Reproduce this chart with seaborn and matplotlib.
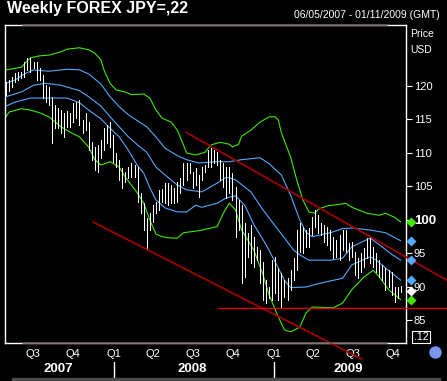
import numpy as np
import pandas as pd
import matplotlib
matplotlib.use('Agg')
import matplotlib.pyplot as plt
import matplotlib.transforms as mtrans
import seaborn as sns

# ---- data (USD/JPY weekly) ----
START = pd.Timestamp('2007-04-30')   # week 0

bar_high = [120.6, 120.9, 121.3, 121.9, 122.1, 122.1, 123.6, 124.2, 124.2, 123.6,
            123.6, 122.7, 121.6, 120.1, 119.9, 118.4, 117.2, 116.7, 116.4, 116.0,
            116.3, 116.0, 117.5, 117.6, 117.9, 114.9, 116.0, 114.6, 111.6, 110.9,
            111.2, 111.9, 113.7, 114.2, 114.6, 112.7, 110.0, 109.0, 107.8, 107.2,
            107.9, 108.5, 108.2, 107.9, 104.0, 102.5, 100.3, 101.0, 102.2, 102.7,
            104.5, 104.6, 105.5, 105.5, 105.2, 104.8, 105.7, 106.3, 108.5, 108.5,
            108.5, 107.2, 107.8, 106.7, 107.9, 108.2, 110.4, 110.7, 110.4, 110.1,
            109.0, 108.5, 107.9, 107.9, 107.0, 104.9, 103.0, 102.2, 99.6, 98.1,
            99.3, 97.5, 96.0, 95.5, 93.7, 91.0, 90.0, 94.0, 94.5, 92.8,
            92.1, 91.0, 91.3, 92.5, 94.3, 98.5, 99.6, 99.0, 98.5, 98.8,
            100.4, 101.5, 100.7, 99.6, 99.3, 99.0, 98.5, 97.5, 97.0, 97.8,
            98.5, 98.5, 96.6, 96.7, 95.2, 94.3, 95.1, 95.8, 97.3, 97.5,
            96.0, 95.1, 94.0, 93.3, 92.8, 92.5, 92.2, 90.0, 90.0, 90.1]
bar_low = [118.7, 119.3, 119.9, 120.6, 120.9, 121.2, 121.3, 122.4, 122.1, 122.7,
           120.9, 120.9, 118.2, 117.6, 117.2, 111.5, 113.7, 113.7, 113.0, 112.4,
           113.9, 113.9, 114.6, 115.2, 114.2, 113.0, 113.4, 110.4, 109.0, 107.5,
           107.2, 109.3, 110.4, 111.5, 110.9, 108.7, 107.9, 106.0, 104.8, 105.7,
           106.3, 106.4, 106.4, 102.7, 101.0, 98.5, 95.5, 98.5, 99.7, 101.0,
           101.5, 102.7, 102.5, 102.2, 102.5, 102.5, 102.7, 104.0, 105.2, 106.0,
           107.0, 104.8, 105.2, 103.4, 106.0, 107.2, 107.9, 107.9, 108.5, 108.2,
           106.0, 104.9, 103.3, 104.0, 103.0, 97.5, 98.5, 90.6, 91.5, 94.5,
           93.6, 93.0, 94.0, 90.6, 88.1, 87.6, 88.4, 88.1, 89.1, 88.1,
           86.9, 88.5, 88.1, 89.6, 91.0, 92.5, 95.2, 95.1, 96.0, 96.0,
           97.8, 99.0, 98.1, 97.8, 96.7, 96.3, 95.5, 94.3, 94.5, 94.0,
           95.5, 95.2, 94.0, 94.5, 91.8, 91.3, 92.2, 93.0, 94.3, 93.6,
           93.0, 92.2, 91.5, 91.0, 89.6, 90.0, 88.8, 87.8, 88.4, 89.3]
last_close = 89.4

# band lines: week index, price
green_up_wk = [0, 5, 8, 11, 14, 18, 20, 24, 27, 29, 31, 32, 34, 36, 39, 41, 45, 47, 49, 51,
               54, 56, 58, 59, 62, 65, 67, 70, 73, 74, 76, 77, 80, 83, 86, 88, 89, 90, 93, 95,
               97, 99, 101, 102, 105, 110, 111, 113, 118, 122, 124, 127, 129]
green_up = [122.4, 122.8, 124.2, 124.5, 124.6, 125.1, 125.5, 125.7, 125.4, 124.9, 123.9, 122.4,
            120.4, 119.4, 119.1, 118.7, 118.8, 118.2, 116.4, 115.2, 114.6, 113.4, 111.2, 110.0,
            109.7, 110.1, 111.2, 111.6, 111.3, 110.9, 111.3, 112.5, 113.4, 114.6, 115.4, 115.4,
            114.9, 113.0, 109.4, 106.0, 103.0, 101.2, 101.0, 101.6, 102.1, 102.4, 102.5, 101.9,
            101.0, 100.7, 101.0, 100.4, 99.7]

blue_up_wk = [0, 3, 6, 9, 14, 20, 24, 27, 31, 34, 37, 40, 43, 46, 49, 52, 56, 59, 63, 69,
              73, 77, 83, 86, 90, 93, 96, 98, 100, 103, 106, 110, 113, 119, 124, 129]
blue_up = [120.4, 120.9, 121.8, 122.4, 122.2, 122.5, 122.4, 121.8, 120.3, 118.4, 116.9, 115.7,
           114.8, 113.9, 112.4, 110.7, 109.6, 109.0, 108.5, 108.7, 108.7, 109.0, 109.3, 108.4,
           106.7, 103.7, 100.0, 98.2, 97.5, 97.8, 98.1, 98.7, 98.8, 98.5, 98.1, 96.9]

blue_mid_wk = [0, 5, 9, 13, 18, 21, 24, 27, 31, 34, 37, 40, 43, 46, 49, 52, 56, 59, 64, 69,
               72, 75, 80, 84, 89, 94, 96, 99, 106, 110, 113, 119, 122, 126, 129]
blue_mid = [118.4, 119.1, 120.1, 120.4, 120.1, 119.7, 119.3, 118.4, 117.0, 115.4, 113.9, 112.4,
            111.2, 110.1, 107.9, 106.7, 105.2, 104.5, 104.2, 105.5, 106.4, 106.0, 104.2, 101.5,
            98.5, 95.5, 94.8, 94.0, 94.0, 94.3, 96.0, 97.3, 96.3, 94.9, 94.0]

blue_lo_wk = [0, 3, 8, 14, 20, 24, 27, 31, 34, 37, 40, 43, 45, 47, 49, 52, 56, 59, 62, 64,
              69, 72, 75, 78, 81, 85, 88, 91, 93, 98, 103, 110, 113, 119, 121, 126, 129]
blue_lo = [117.0, 117.6, 118.2, 118.2, 118.2, 117.5, 116.4, 115.1, 113.7, 112.4, 110.4, 108.1,
           107.0, 104.8, 103.0, 101.8, 101.2, 101.2, 102.2, 101.9, 102.5, 103.3, 103.6, 102.2,
           99.3, 96.3, 93.7, 91.0, 89.9, 90.0, 90.6, 91.3, 93.3, 94.5, 94.0, 92.1, 91.0]

green_lo_wk = [0, 1, 5, 8, 11, 14, 18, 21, 24, 27, 29, 31, 34, 37, 39, 41, 43, 45, 47, 49,
               51, 54, 56, 58, 63, 69, 71, 73, 75, 77, 81, 84, 86, 89, 91, 93, 96, 98, 100,
               107, 110, 113, 117, 120, 122, 125, 129]
green_lo = [115.4, 116.1, 116.6, 116.4, 116.0, 115.4, 113.9, 113.1, 112.4, 110.9, 109.0, 108.2,
            108.7, 107.9, 106.4, 105.2, 104.0, 102.5, 100.0, 97.9, 97.5, 97.3, 97.3, 98.1,
            98.4, 99.0, 101.0, 102.5, 101.5, 98.5, 95.5, 91.8, 88.8, 85.5, 83.6, 83.3, 84.0,
            86.1, 87.0, 86.9, 87.6, 89.6, 91.5, 92.5, 91.5, 89.6, 88.1]

# trend lines drawn on the chart: (week, price) end points
trend_upper = [(58.8, 113.1), (144.1, 91.0)]
trend_lower = [(28.4, 99.7), (116.3, 79.25)]
support_level = 86.9
support_from = 69.3

quarters = pd.date_range('2007-07-01', '2009-10-01', freq='QS')
year_labels = ['2007', '2008', '2009']
year_centres = ['2007-08-28', '2008-06-28', '2009-06-20']
year_breaks = ['2008-01-01', '2009-01-01']
price_ticks = [85, 90, 95, 100, 105, 110, 115, 120]


def wk(k):
    return START + pd.to_timedelta(np.asarray(k, dtype=float) * 7, unit='D')


GREEN = '#3ee800'
BLUE = '#55a8ff'
DARKRED = '#a00000'

sns.set_style('dark', {'axes.facecolor': 'black', 'figure.facecolor': 'black'})
plt.rcParams['font.family'] = ['Liberation Sans', 'DejaVu Sans']

W, H = 447, 381
fig = plt.figure(figsize=(W / 100, H / 100), dpi=100, facecolor='black')
ax = fig.add_axes([5 / W, (H - 343) / H, 401 / W, 318 / H])
ax.set_facecolor('black')

# bars (1 px wide)
dates = wk(np.arange(len(bar_high)))
ax.vlines(dates, bar_low, bar_high, color='white', lw=0.5, antialiased=False, zorder=3)

# bands
for wks, vals, col in [(green_up_wk, green_up, GREEN), (blue_up_wk, blue_up, BLUE),
                       (blue_mid_wk, blue_mid, BLUE), (blue_lo_wk, blue_lo, BLUE),
                       (green_lo_wk, green_lo, GREEN)]:
    sns.lineplot(x=wk(wks), y=vals, color=col, lw=0.8, ax=ax, zorder=2)

# trend lines
for (k0, p0), (k1, p1) in [trend_upper, trend_lower]:
    ax.plot(wk([k0, k1]), [p0, p1], color=DARKRED, lw=1.3, clip_on=False, zorder=4)
ax.plot(wk([support_from, 144.1]), [support_level, support_level],
        color='#e00000', lw=1.0, clip_on=False, zorder=4)

ax.set_xlim(START - pd.Timedelta(days=2.3), START + pd.Timedelta(days=915))
ax.set_ylim(81.64, 129.10)
ax.grid(False)

# axes frame
for s in ax.spines.values():
    s.set_color('white')
    s.set_linewidth(1.0)
for yy in (0, 1):
    ax.plot([0.045, 0.953], [yy, yy], transform=ax.transAxes, color='#6a5a5a',
            lw=1.2, clip_on=False, zorder=5)

# y axis on the right
ax.yaxis.tick_right()
ax.set_yticks(price_ticks)
ax.set_yticklabels([str(t) for t in price_ticks])
ax.tick_params(axis='y', colors='white', labelcolor='white', length=4, width=0.8,
               labelsize=8, pad=1.5, direction='out')
for lab in ax.get_yticklabels():
    if lab.get_text() == '100':
        lab.set_fontweight('bold')
        lab.set_fontsize(9.5)

# x axis quarters
ax.set_xticks(quarters)
ax.set_xticklabels(['Q%d' % q.quarter for q in quarters])
ax.tick_params(axis='x', colors='white', labelcolor='white', length=3, width=0.8,
               labelsize=8, pad=1.5, direction='out')
ax.set_xlabel('')
ax.set_ylabel('')

blend = mtrans.blended_transform_factory(ax.transData, ax.transAxes)
for lab, cx in zip(year_labels, year_centres):
    ax.text(pd.Timestamp(cx), -0.082, lab, transform=blend, color='white', fontsize=9.5,
            fontweight='bold', ha='center', va='center')
for b in year_breaks:
    ax.plot([pd.Timestamp(b)] * 2, [-0.06, -0.112], transform=blend, color='white',
            lw=1.0, clip_on=False)

# last-value markers on the right
mark_tr = mtrans.blended_transform_factory(ax.transAxes, ax.transData)
last_vals = [(green_up[-1], GREEN), (blue_up[-1], BLUE), (blue_mid[-1], BLUE),
             (blue_lo[-1], BLUE), (last_close, 'white'), (green_lo[-1], GREEN)]
for v, c in last_vals:
    ax.scatter([1.0125], [v], marker='D', s=26, color=c, transform=mark_tr,
               clip_on=False, zorder=6, linewidths=0)

# titles and labels
fig.text(7 / W, 1 - 9 / H, 'Weekly FOREX JPY=,22', color='white', fontsize=11.5,
         fontweight='bold', ha='left', va='center')
fig.text(440 / W, 1 - 15 / H, '06/05/2007 - 01/11/2009 (GMT)', color='white',
         fontsize=7.5, ha='right', va='center')
fig.text(410 / W, 1 - 34 / H, 'Price', color='white', fontsize=7.5, ha='left', va='center')
fig.text(410 / W, 1 - 50 / H, 'USD', color='white', fontsize=7.5, ha='left', va='center')
fig.text(421 / W, 1 - 337 / H, '.12', color='white', fontsize=7.5, ha='center', va='center',
         bbox=dict(boxstyle='square,pad=0.12', fc='black', ec='white', lw=0.8))
ax.scatter([435 / W], [1 - 352 / H], s=80, color='#7b96f0', transform=fig.transFigure,
           clip_on=False, linewidths=0, zorder=6)
fig.patches.append(plt.Rectangle((12 / W, 0), 428 / W, 3 / H, transform=fig.transFigure,
                                 color='#4a4a4a', zorder=0))

fig.savefig('out.png', dpi=100, facecolor='black')
